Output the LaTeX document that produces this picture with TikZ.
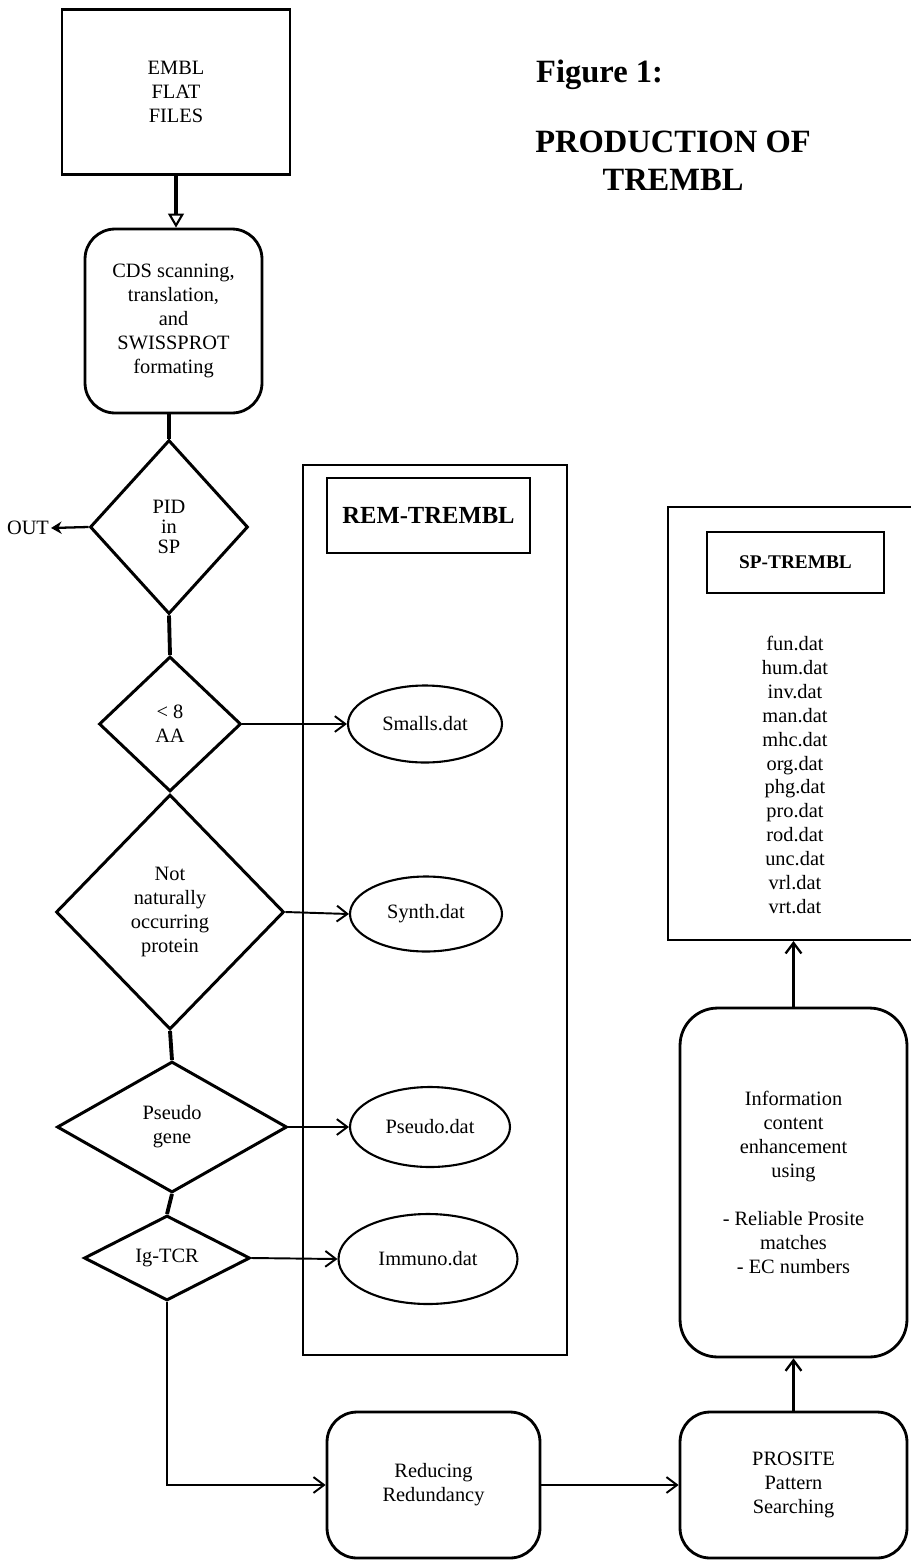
\documentclass[tikz,border=0pt]{standalone}
\usepackage{fontspec}
\setmainfont{Liberation Serif}
\usetikzlibrary{shapes.geometric,arrows.meta}
\begin{document}
\begin{tikzpicture}[x=0.02cm,y=-0.02cm,
  txt/.style={font=\fontsize{11.6}{13.6}\selectfont, align=center},
  sqbox/.style={draw, line width=1.6pt, rectangle, inner sep=0pt, txt},
  rbox/.style={draw, line width=1.6pt, rectangle, rounded corners=0.6cm, inner sep=0pt, txt},
  dia/.style={draw, line width=1.7pt, diamond, inner sep=0pt, txt},
  ell/.style={draw, line width=1.2pt, ellipse, inner sep=0pt, txt},
  frame/.style={draw, line width=1.2pt, rectangle, inner sep=0pt},
  lbl/.style={draw, line width=1.2pt, rectangle, inner sep=0pt, font=\bfseries},
  thickline/.style={line width=2.2pt},
  thinarr/.style={line width=1.1pt, -{Straight Barb[length=6pt,width=9pt,line width=1.1pt]}},
  bigarr/.style={line width=2pt, -{Triangle[open,length=8pt,width=9pt,line width=1.2pt]}},
  uparr/.style={line width=1.3pt, -{Straight Barb[length=6pt,width=9pt,line width=1.3pt]}}
]
\useasboundingbox (0,0) rectangle (911,1562);

% title
\node[anchor=west, font=\fontsize{18.5}{22}\selectfont\bfseries] (fig) at (530,75) {Figure 1:};
\node[align=center, font=\fontsize{18.5}{21.5}\selectfont\bfseries] (title) at (673,161) {PRODUCTION OF\\TREMBL};

% left column
\node[sqbox, minimum width=4.56cm, minimum height=3.30cm] (embl) at (176,92) {EMBL\\FLAT\\FILES};
\node[rbox, minimum width=3.54cm, minimum height=3.68cm] (cds) at (173.5,321) {CDS scanning,\\translation,\\and\\SWISSPROT\\formating};
\node[dia, minimum width=3.16cm, minimum height=3.48cm] (pid) at (169,527) {PID\\[-2pt]in\\[-2pt]SP};
\node[txt, inner sep=1pt] (out) at (28,528) {OUT};
\node[dia, minimum width=2.84cm, minimum height=2.70cm] (aa) at (170,724) {{<} 8\\AA};
\node[dia, minimum width=4.56cm, minimum height=4.70cm] (nat) at (170,912) {Not\\naturally\\occurring\\protein};
\node[dia, minimum width=4.60cm, minimum height=2.62cm] (pseudo) at (172,1127) {Pseudo\\gene};
\node[dia, minimum width=3.32cm, minimum height=1.70cm] (igtcr) at (167,1258) {Ig-TCR};

% REM-TREMBL
\node[frame, minimum width=5.28cm, minimum height=17.80cm] (rem) at (435,910) {};
\node[lbl, minimum width=4.06cm, minimum height=1.50cm, font=\fontsize{14}{16}\selectfont\bfseries] (remlbl) at (428.5,515.5) {REM-TREMBL};
\node[ell, minimum width=3.08cm, minimum height=1.54cm] (smalls) at (425,724) {Smalls.dat};
\node[ell, minimum width=3.04cm, minimum height=1.50cm] (synth) at (426,914) {Synth.dat};
\node[ell, minimum width=3.20cm, minimum height=1.60cm] (pdat) at (430,1127) {Pseudo.dat};
\node[ell, minimum width=3.58cm, minimum height=1.80cm] (immuno) at (428,1259) {Immuno.dat};

% bottom row
\node[rbox, minimum width=4.26cm, minimum height=2.92cm] (reduce) at (433.5,1485) {Reducing\\Redundancy};
\node[rbox, minimum width=4.54cm, minimum height=2.92cm] (prosite) at (793.5,1485) {PROSITE\\Pattern\\Searching};
\node[rbox, rounded corners=0.75cm, minimum width=4.54cm, minimum height=6.98cm] (info) at (793.5,1182.5) {Information\\content\\enhancement\\using\\[13.6pt]- Reliable Prosite\\matches\\- EC numbers};

% SP-TREMBL
\node[frame, minimum width=5.14cm, minimum height=8.66cm] (sp) at (796.5,723.5) {};
\node[lbl, minimum width=3.54cm, minimum height=1.22cm, font=\fontsize{11}{13}\selectfont\bfseries] (splbl) at (795.5,562.5) {SP-TREMBL};
\node[txt] (splist) at (795,775) {fun.dat\\hum.dat\\inv.dat\\man.dat\\mhc.dat\\org.dat\\phg.dat\\pro.dat\\rod.dat\\unc.dat\\vrl.dat\\vrt.dat};

% connectors
\draw[bigarr] (embl.south) -- (cds.north -| embl.south);
\draw[thickline] (pid.north) -- (pid.north |- cds.south);
\draw[line width=1.3pt, -{Stealth[length=6pt,width=7pt]}] (pid.west) -- (out.east);
\draw[thickline] (pid.south) -- (aa.north);
\draw[thinarr] (aa.east) -- (smalls.west);
\draw[thinarr] (nat.east) -- (synth.west);
\draw[thickline] (nat.south) -- (pseudo.north);
\draw[thinarr] (pseudo.east) -- (pdat.west);
\draw[thickline] (pseudo.south) -- (igtcr.north);
\draw[thinarr] (igtcr.east) -- (immuno.west);
\draw[thinarr] (igtcr.south) |- (reduce.west);
\draw[thinarr] (reduce.east) -- (prosite.west);
\draw[uparr] (prosite.north) -- (info.south);
\draw[uparr] (info.north) -- (info.north |- sp.south);
\end{tikzpicture}
\end{document}
